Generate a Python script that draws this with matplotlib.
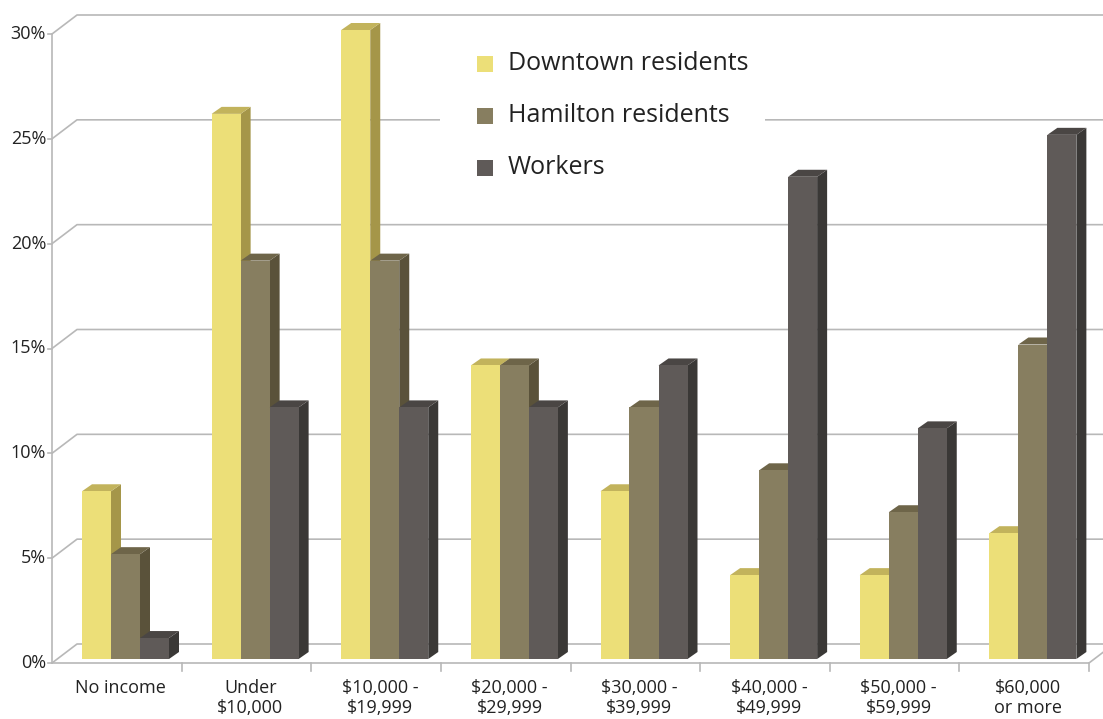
import matplotlib
matplotlib.use("Agg")
import matplotlib.pyplot as plt
from matplotlib.patches import Polygon, Rectangle
import numpy as np

plt.rcParams['font.family'] = ['Open Sans', 'DejaVu Sans']

categories = ["No income", "Under\n$10,000", "$10,000 -\n$19,999", "$20,000 -\n$29,999",
              "$30,000 -\n$39,999", "$40,000 -\n$49,999", "$50,000 -\n$59,999", "$60,000\nor more"]
series_names = ["Downtown residents", "Hamilton residents", "Workers"]
downtown = [8, 26, 30, 14, 8, 4, 4, 6]
hamilton = [5, 19, 19, 14, 12, 9, 7, 15]
workers = [1, 12, 12, 12, 14, 23, 11, 25]
yticks = [0, 5, 10, 15, 20, 25, 30]
ytick_labels = ["0%", "5%", "10%", "15%", "20%", "25%", "30%"]

front_cols = ["#ECDF78", "#877E60", "#5F5A58"]
side_cols = ["#A59649", "#5A523A", "#3A3836"]
top_cols = ["#C2B35C", "#6E6549", "#4A4644"]

W, H = 1103, 719
fig = plt.figure(figsize=(W / 100, H / 100), dpi=100)
ax_l, ax_r, ax_t, ax_b = 52, 1089, 34, 663
ax = fig.add_axes([ax_l / W, 1 - ax_b / H, (ax_r - ax_l) / W, (ax_b - ax_t) / H])
n = len(categories)
ax.set_xlim(0, n)
ax.set_ylim(0, 30)
ax.axis('off')

PX_X = n / (ax_r - ax_l)
PX_Y = 30 / (ax_b - ax_t)
WX, WY = 25 * PX_X, 19 * PX_Y      # wall depth
BX, BY = 10 * PX_X, 7 * PX_Y       # bar depth
BW = 29 * PX_X
B0 = 30 * PX_X
BASE = 4 * PX_Y                    # bars stand slightly back on the floor

grid_col = "#B8B8B8"
lw = 1.2
# grid lines: diagonal on side wall + horizontal on back wall
for v, lab in zip(yticks, ytick_labels):
    ax.plot([0, WX, n + WX + 1], [v, v + WY, v + WY], color=grid_col, lw=lw,
            clip_on=False, zorder=1, solid_capstyle='butt')
    ax.plot([-4 * PX_X, 0], [v, v], color=grid_col, lw=lw, clip_on=False, zorder=1)
    ax.text(-6 * PX_X, v, lab, ha='right', va='center', fontsize=13, color="#222222")
# left axis line
ax.plot([0, 0], [0, 30], color=grid_col, lw=lw, clip_on=False, zorder=1)
# floor
ax.plot([0, n, n + WX], [0, 0, WY], color=grid_col, lw=lw, clip_on=False, zorder=1)
for i in range(1, n + 1):
    ax.plot([i, i], [0, -8 * PX_Y], color=grid_col, lw=lw, clip_on=False, zorder=1)

# legend background (white box)
ax.add_patch(Rectangle(((440 - ax_l) * PX_X, (ax_b - 195) * PX_Y), 325 * PX_X, 160 * PX_Y,
                       facecolor='white', edgecolor='none', zorder=2, clip_on=False))

# bars
data = [downtown, hamilton, workers]
z = 3
for i in range(n):
    for s in range(3):
        v = data[s][i]
        x0 = i + B0 + s * BW
        x1 = x0 + BW
        b, t = BASE, v + BASE
        side = Polygon([(x1, b), (x1, t), (x1 + BX, t + BY), (x1 + BX, b + BY)], closed=True,
                       facecolor=side_cols[s], edgecolor='none', zorder=z, clip_on=False)
        top = Polygon([(x0, t), (x1, t), (x1 + BX, t + BY), (x0 + BX, t + BY)], closed=True,
                      facecolor=top_cols[s], edgecolor='none', zorder=z, clip_on=False)
        ax.add_patch(side)
        ax.add_patch(top)
        ax.bar(x0, v, width=BW, bottom=BASE, align='edge', color=front_cols[s], zorder=z + 0.5,
               clip_on=False, linewidth=0)
        z += 1

# category labels
for i, c in enumerate(categories):
    ax.text(i + 0.5 + 4 * PX_X, -16 * PX_Y, c, ha='center', va='top', fontsize=13,
            color="#222222", linespacing=1.15)

# legend entries
for s, name in enumerate(series_names):
    yc = [64, 116, 168][s]
    ax.add_patch(Rectangle(((477 - ax_l) * PX_X, (ax_b - yc - 8) * PX_Y), 16 * PX_X, 16 * PX_Y,
                           facecolor=front_cols[s], edgecolor='none', zorder=50, clip_on=False))
    ax.text((508 - ax_l) * PX_X, (ax_b - yc) * PX_Y, name, ha='left', va='center',
            fontsize=18, color="#222222", zorder=51)

fig.savefig("out.png", dpi=100, facecolor='white')
